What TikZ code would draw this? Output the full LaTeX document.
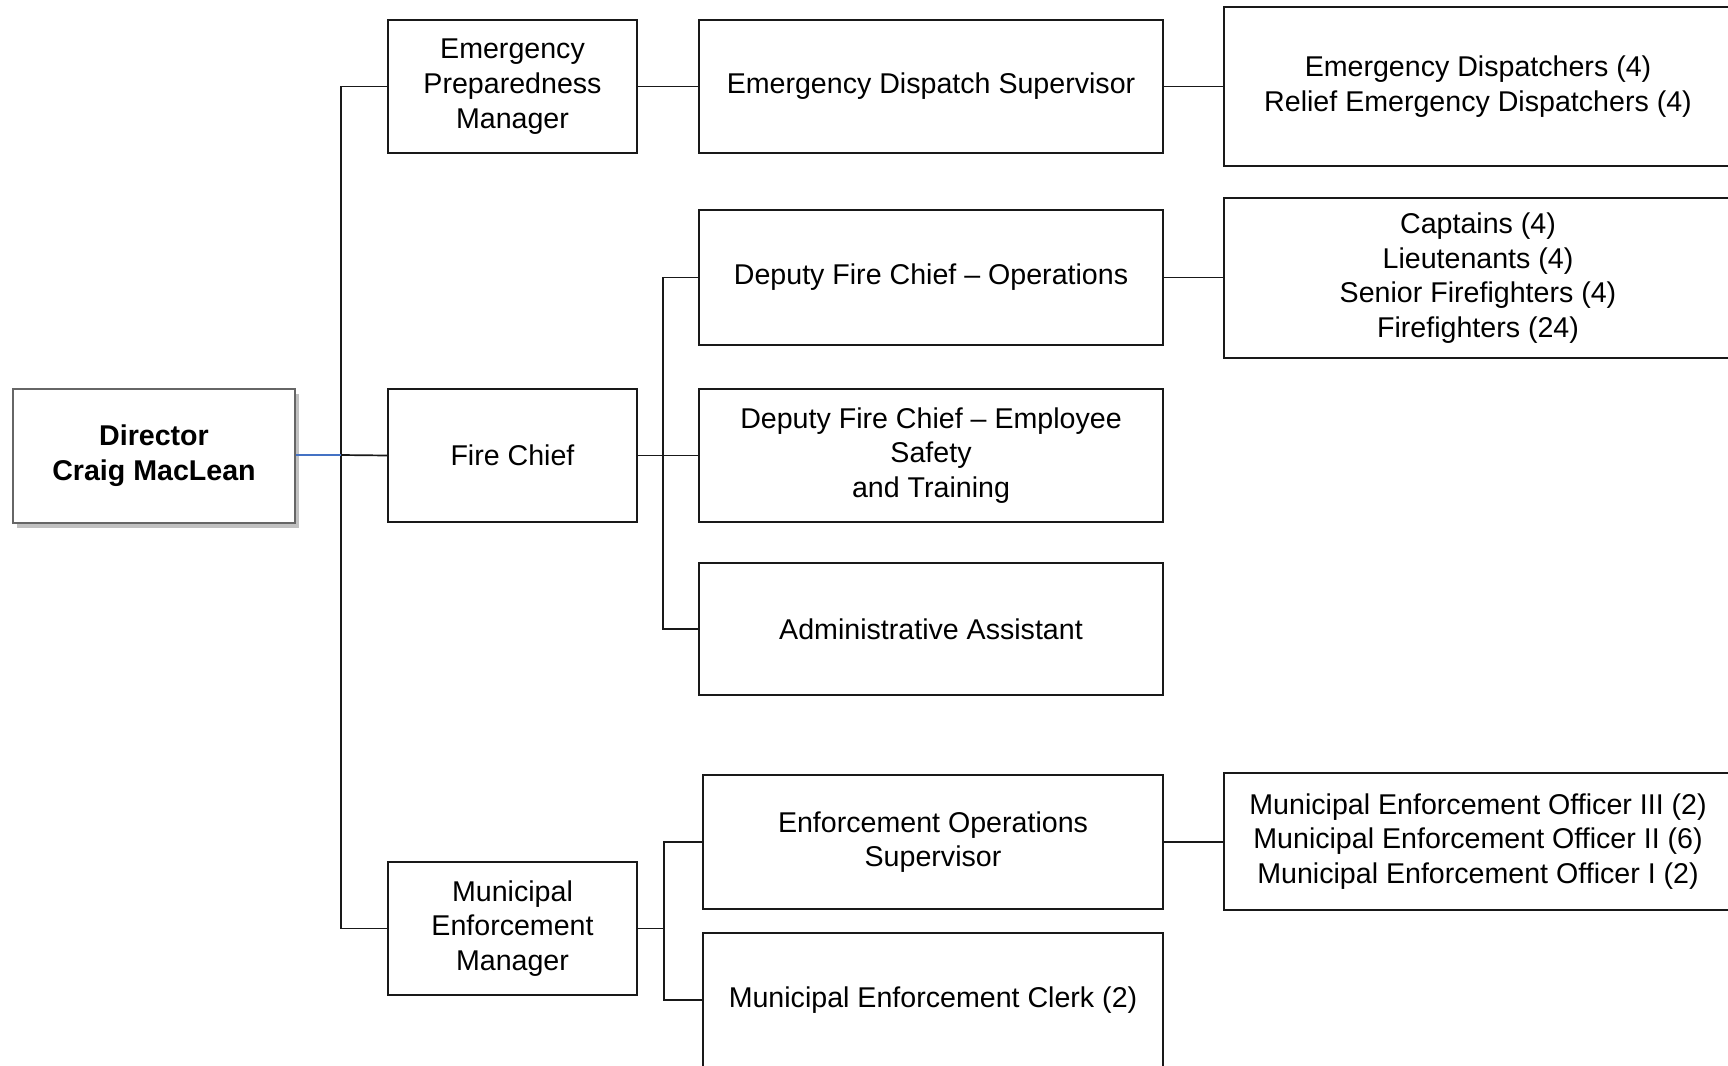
\documentclass[tikz,border=0pt]{standalone}
\usepackage{fontspec}
\setmainfont{Liberation Sans}
\usetikzlibrary{shadows}
\definecolor{linkblue}{HTML}{4472C4}
\begin{document}
\begin{tikzpicture}[x=1pt,y=-1pt,
  box/.style={draw=black!90, line width=1.7pt, fill=white, align=center, inner sep=0pt,
    font=\fontsize{28.6}{34.7}\selectfont},
  dirbox/.style={box, draw=black!60, line width=2pt, font=\fontsize{28.6}{34.7}\selectfont\bfseries,
    drop shadow={shadow xshift=4pt, shadow yshift=-5pt, fill=black!40, opacity=0.6}},
  conn/.style={line width=1.7pt, draw=black!90},
  blueconn/.style={line width=1.4pt, draw=linkblue}]
\useasboundingbox (0,0) rectangle (1728,1065);
\fill[white] (0,0) rectangle (1728,1065);
\clip (0,0) rectangle (1728,1065);

\node[dirbox, minimum width=282pt, minimum height=134pt] (dir) at (154,456) {Director\\Craig MacLean};

\node[box, minimum width=249pt, minimum height=133pt] (epm) at (512.5,86.5) {Emergency\\Preparedness\\Manager};
\node[box, minimum width=249pt, minimum height=133pt] (fc) at (512.5,455.5) {Fire Chief};
\node[box, minimum width=249pt, minimum height=133pt] (mem) at (512.5,928.5) {Municipal\\Enforcement\\Manager};

\node[box, minimum width=464pt, minimum height=133pt] (eds) at (931,86.5) {Emergency Dispatch Supervisor};
\node[box, minimum width=464pt, minimum height=135pt] (dfo) at (931,277.5) {Deputy Fire Chief -- Operations};
\node[box, minimum width=464pt, minimum height=133pt] (dfe) at (931,455.5) {Deputy Fire Chief -- Employee\\Safety\\and Training};
\node[box, minimum width=464pt, minimum height=132pt] (adm) at (931,629) {Administrative Assistant};
\node[box, minimum width=460pt, minimum height=134pt] (eos) at (933,842) {Enforcement Operations\\Supervisor};
\node[box, minimum width=460pt, minimum height=134pt] (clk) at (933,1000) {Municipal Enforcement Clerk (2)};

\node[box, minimum width=508pt, minimum height=159pt] (ed) at (1478,86.5) {Emergency Dispatchers (4)\\Relief Emergency Dispatchers (4)};
\node[box, minimum width=508pt, minimum height=160pt] (cap) at (1478,278) {Captains (4)\\Lieutenants (4)\\Senior Firefighters (4)\\Firefighters (24)};
\node[box, minimum width=508pt, minimum height=137pt] (meo) at (1478,841.5) {Municipal Enforcement Officer III (2)\\Municipal Enforcement Officer II (6)\\Municipal Enforcement Officer I (2)};

\coordinate (trunk) at (341,455);
\coordinate (fb) at (663,455.5);
\coordinate (mb) at (664,928.5);

\draw[conn] (epm.west) -| (trunk) |- (mem.west);
\draw[conn] (trunk) -- (fc.west);
\draw[blueconn] (dir.east |- trunk) -- (trunk);

\draw[conn] (epm.east) -- (eds.west);
\draw[conn] (eds.east) -- (ed.west);

\draw[conn] (fc.east) -- (fb);
\draw[conn] (dfo.west) -| (fb) |- (adm.west);
\draw[conn] (fb) -- (dfe.west);
\draw[conn] (dfo.east) -- (dfo.east -| cap.west);

\draw[conn] (mem.east) -- (mb);
\draw[conn] (eos.west) -| (mb) |- (clk.west);
\draw[conn] (eos.east) -- (eos.east -| meo.west);
\end{tikzpicture}
\end{document}
